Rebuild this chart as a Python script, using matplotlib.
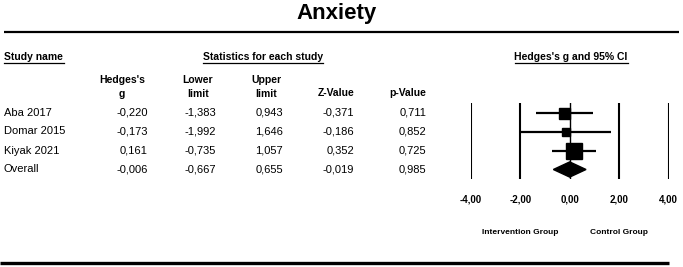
import matplotlib
matplotlib.use("Agg")
import matplotlib.pyplot as plt
from matplotlib.patches import Polygon
import matplotlib.transforms as mtransforms

plt.rcParams['font.family'] = ['Liberation Sans', 'DejaVu Sans']

# ---- data ----
title = "Anxiety"
studies = ["Aba 2017", "Domar 2015", "Kiyak 2021"]
hedges_g = [-0.220, -0.173, 0.161]
lower_limit = [-1.383, -1.992, -0.735]
upper_limit = [0.943, 1.646, 1.057]
z_value = [-0.371, -0.186, 0.352]
p_value = [0.711, 0.852, 0.725]
study_weight = [11, 8, 16]  # relative box size

overall_label = "Overall"
overall_g = -0.006
overall_lower = -0.667
overall_upper = 0.655
overall_z = -0.019
overall_p = 0.985

x_ticks = [-4, -2, 0, 2, 4]
x_tick_labels = ["-4,00", "-2,00", "0,00", "2,00", "4,00"]
left_label = "Intervention Group"
right_label = "Control Group"

W, H = 683, 267
fig = plt.figure(figsize=(W / 100, H / 100), dpi=100)

# background axes in pixel coordinates for text layout
bg = fig.add_axes([0, 0, 1, 1])
bg.set_xlim(0, W)
bg.set_ylim(H, 0)
bg.axis('off')


def fmt(v, d=3):
    return f"{v:.{d}f}".replace('.', ',')


HFS = 7.5  # header font size

# Title
bg.text(337, 13, title, fontsize=16, fontweight='bold', ha='center', va='center')
bg.plot([4, 679], [32, 32], color='black', lw=1.6, solid_capstyle='butt')
bg.plot([0, 669], [263, 263], color='black', lw=2.4, solid_capstyle='butt')

# Section headers with underline
hdr_y = 57
bg.text(4, hdr_y, "Study name", fontsize=HFS, fontweight='bold', ha='left', va='center')
bg.plot([4, 64], [62.5, 62.5], color='black', lw=0.9)
bg.text(263, hdr_y, "Statistics for each study", fontsize=HFS, fontweight='bold', ha='center', va='center')
bg.plot([203, 323], [62.5, 62.5], color='black', lw=0.9)
bg.text(571, hdr_y, "Hedges's g and 95% CI", fontsize=HFS, fontweight='bold', ha='center', va='center')
bg.plot([515, 628], [62.5, 62.5], color='black', lw=0.9)

# Column headers
col_right = [148, 216, 283, 354, 426]
bg.text(122, 80, "Hedges's", fontsize=HFS, fontweight='bold', ha='center', va='center')
bg.text(122, 94, "g", fontsize=HFS, fontweight='bold', ha='center', va='center')
bg.text(198, 80, "Lower", fontsize=HFS, fontweight='bold', ha='center', va='center')
bg.text(198, 94, "limit", fontsize=HFS, fontweight='bold', ha='center', va='center')
bg.text(266, 80, "Upper", fontsize=HFS, fontweight='bold', ha='center', va='center')
bg.text(266, 94, "limit", fontsize=HFS, fontweight='bold', ha='center', va='center')
bg.text(col_right[3], 93, "Z-Value", fontsize=HFS, fontweight='bold', ha='right', va='center')
bg.text(col_right[4], 93, "p-Value", fontsize=HFS, fontweight='bold', ha='right', va='center')

# Rows
row_px = [112.5, 131.5, 150.5, 169.5]
names = studies + [overall_label]
gs = hedges_g + [overall_g]
los = lower_limit + [overall_lower]
ups = upper_limit + [overall_upper]
zs = z_value + [overall_z]
ps = p_value + [overall_p]
for i, yp in enumerate(row_px):
    fs = 8
    bg.text(4, yp, names[i], fontsize=fs, ha='left', va='center')
    for cx, v in zip(col_right, [gs[i], los[i], ups[i], zs[i], ps[i]]):
        bg.text(cx, yp, fmt(v), fontsize=fs, ha='right', va='center')

# Forest plot axes
x0_px, x1_px = 471, 668.7
y0_px, y1_px = 103, 179
ax = fig.add_axes([x0_px / W, 1 - y1_px / H, (x1_px - x0_px) / W, (y1_px - y0_px) / H])
ax.set_xlim(-4, 4)
ax.set_ylim(3.5, -0.5)
ax.axis('off')
ax.patch.set_alpha(0)

for t in x_ticks:
    ax.axvline(t, color='black', lw=1.0 if t == 0 else 1.5, ymin=0, ymax=1)

for i in range(len(studies)):
    ax.plot([lower_limit[i], upper_limit[i]], [i, i], color='black', lw=1.6, solid_capstyle='butt')
    ax.plot(hedges_g[i], i, marker='s', color='black', markersize=study_weight[i] * 0.72, linestyle='none')

yo = len(studies)
h = 0.4
diamond = Polygon([[overall_lower, yo], [overall_g, yo - h], [overall_upper, yo], [overall_g, yo + h]],
                  closed=True, facecolor='black', edgecolor='black')
ax.add_patch(diamond)

# tick labels and group labels
trans = mtransforms.blended_transform_factory(ax.transData, bg.transData)
for t, lab in zip(x_ticks, x_tick_labels):
    ax.text(t, 199, lab, fontsize=7, fontweight='bold', ha='center', va='center', transform=trans)
ax.text(-2, 233, left_label, fontsize=6, fontweight='bold', ha='center', va='center', transform=trans)
ax.text(2, 233, right_label, fontsize=6, fontweight='bold', ha='center', va='center', transform=trans)
for t in ax.texts:
    t.set_clip_on(False)

fig.savefig("out.png", dpi=100)
